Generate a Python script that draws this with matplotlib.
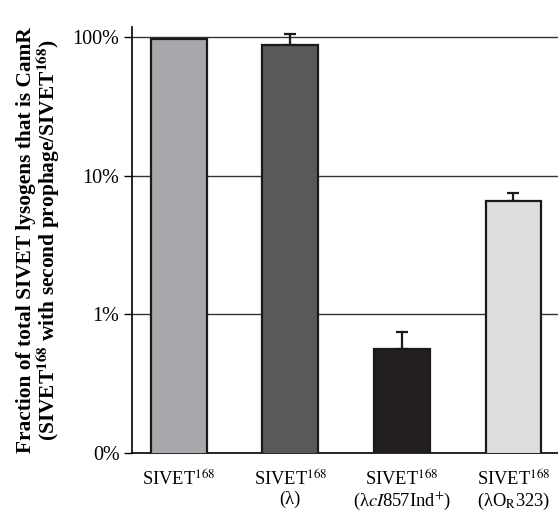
import numpy as np
import matplotlib.pyplot as plt

plt.rcParams['font.family'] = ['Liberation Serif', 'DejaVu Serif']
plt.rcParams['mathtext.fontset'] = 'stix'

# strains and measured fractions (percent)
strains = ['SIVET$^{168}$',
           'SIVET$^{168}$\n(λ)',
           'SIVET$^{168}$\n(λ$\\mathit{cI}$857Ind$^{+}$)',
           'SIVET$^{168}$\n(λO$_{\\mathrm{R}}$323)']
fraction = [97.0, 88.0, 0.56, 6.6]
err_upper = [0.0, 17.0, 0.19, 0.9]
colors = ['#a7a8ab', '#58595b', '#231f20', '#dcdddf']

yticks = [0.1, 1, 10, 100]
yticklabels = ['0%', '1%', '10%', '100%']

fig = plt.figure(figsize=(5.58, 5.11), dpi=100)
ax = fig.add_axes([132 / 558, 1 - 453 / 511, 1 - 132 / 558, (453 - 27) / 511])

x = np.arange(len(strains))
ax.set_yscale('log')
ax.bar(x, fraction, width=0.5, color=colors, edgecolor='#1a1a1a',
       linewidth=1.6, zorder=3)
yerr = np.array([np.zeros(len(fraction)), err_upper])
mask = np.array(err_upper) > 0
ax.errorbar(x[mask], np.array(fraction)[mask], yerr=yerr[:, mask], fmt='none',
            ecolor='#1a1a1a', elinewidth=1.6, capsize=4, capthick=1.6, zorder=2)

for yv in [1, 10, 100]:
    ax.axhline(yv, color='#333333', lw=1.0, zorder=1)

ax.set_ylim(0.1, 118)
ax.set_xlim(-0.42, 3.40)
ax.set_yticks(yticks)
ax.set_yticklabels(yticklabels, fontsize=14.5)
ax.minorticks_off()
ax.yaxis.set_minor_locator(plt.NullLocator())
ax.tick_params(axis='y', direction='out', length=6, width=1, pad=3)
ax.set_xticks(x)
ax.set_xticklabels(strains, fontsize=13.3, linespacing=1.05)
ax.tick_params(axis='x', length=0, pad=12)

for s in ['top', 'right']:
    ax.spines[s].set_visible(False)
ax.spines['left'].set_linewidth(1.2)
ax.spines['bottom'].set_linewidth(1.2)

ax.set_ylabel('Fraction of total SIVET lysogens that is CamR\n'
              '(SIVET$^{\\mathbf{168}}$ with second prophage/SIVET$^{\\mathbf{168}}$)',
              fontsize=15.4, fontweight='bold', linespacing=1.0, labelpad=7)

fig.savefig('out.png', dpi=100)
